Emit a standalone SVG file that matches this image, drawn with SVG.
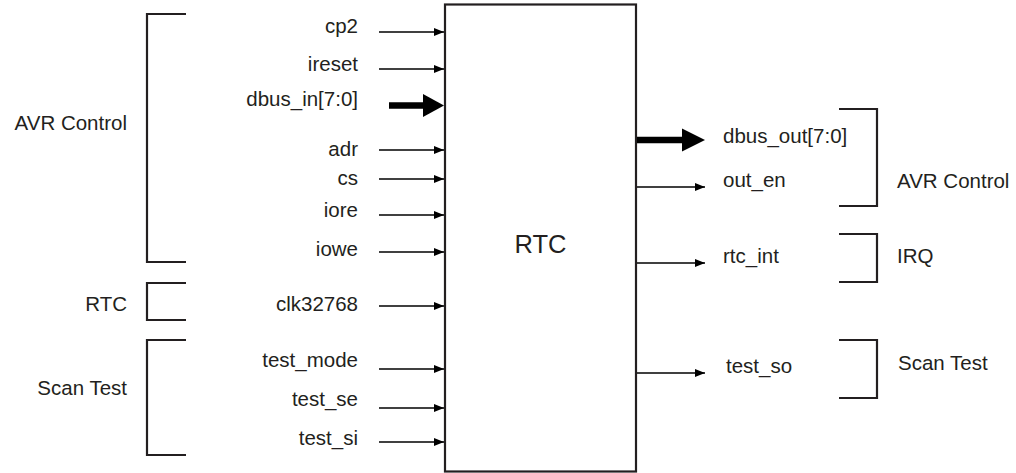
<svg xmlns="http://www.w3.org/2000/svg" width="1016" height="473" viewBox="0 0 1016 473">
<defs>
<style>
text{font-family:"Liberation Sans",Arial,sans-serif;font-size:20.5px;fill:#231f20}
.end{text-anchor:end}
.br{fill:none;stroke:#231f20;stroke-width:2.2}
.thin{stroke:#000;stroke-width:1.3;fill:none}
.thick{stroke:#000;stroke-width:6.5;fill:none}
</style>
<marker id="ah" viewBox="0 0 10 8" refX="10" refY="4" markerWidth="10" markerHeight="8" markerUnits="userSpaceOnUse" orient="auto">
<path d="M0,0 L10,4 L0,8 Z" fill="#000"/>
</marker>
</defs>
<rect width="1016" height="473" fill="#fff"/>
<g id="rtc-block">
<rect x="445" y="4.5" width="191" height="467" fill="none" stroke="#231f20" stroke-width="2.2"/>
<text x="540.5" y="253" text-anchor="middle" style="font-size:25.5px">RTC</text>
</g>
<g id="group-left-avr">
<path class="br" d="M186,14 H147 V262 H186"/>
<text class="end" x="127" y="130">AVR Control</text>
</g>
<g id="group-left-rtc">
<path class="br" d="M186,283 H147 V320 H186"/>
<text class="end" x="127" y="311">RTC</text>
</g>
<g id="group-left-scan">
<path class="br" d="M186,340 H147 V455 H186"/>
<text class="end" x="127" y="395">Scan Test</text>
</g>
<g id="group-right-avr">
<path class="br" d="M839,109 H877 V206 H839"/>
<text x="897" y="188">AVR Control</text>
</g>
<g id="group-right-irq">
<path class="br" d="M839,234 H877 V282 H839"/>
<text x="897" y="263">IRQ</text>
</g>
<g id="group-right-scan">
<path class="br" d="M839,340 H877 V398 H839"/>
<text x="898" y="370">Scan Test</text>
</g>
<g id="labels">
<text class="end" x="358" y="33">cp2</text>
<text class="end" x="358" y="71">ireset</text>
<text class="end" x="358" y="106">dbus_in[7:0]</text>
<text class="end" x="358" y="156">adr</text>
<text class="end" x="358" y="185">cs</text>
<text class="end" x="358" y="217">iore</text>
<text class="end" x="358" y="256">iowe</text>
<text class="end" x="358" y="311">clk32768</text>
<text class="end" x="358" y="367">test_mode</text>
<text class="end" x="358" y="406">test_se</text>
<text class="end" x="358" y="445">test_si</text>
<text x="723" y="143">dbus_out[7:0]</text>
<text x="723" y="187">out_en</text>
<text x="723" y="263">rtc_int</text>
<text x="726" y="373">test_so</text>
</g>
<g id="connectors">
<line class="thin" x1="379" y1="32" x2="444" y2="32" marker-end="url(#ah)"/>
<line class="thin" x1="379" y1="69" x2="444" y2="69" marker-end="url(#ah)"/>
<line class="thin" x1="379" y1="150" x2="444" y2="150" marker-end="url(#ah)"/>
<line class="thin" x1="379" y1="179" x2="444" y2="179" marker-end="url(#ah)"/>
<line class="thin" x1="379" y1="215" x2="444" y2="215" marker-end="url(#ah)"/>
<line class="thin" x1="379" y1="252" x2="444" y2="252" marker-end="url(#ah)"/>
<line class="thin" x1="379" y1="306" x2="444" y2="306" marker-end="url(#ah)"/>
<line class="thin" x1="379" y1="369" x2="444" y2="369" marker-end="url(#ah)"/>
<line class="thin" x1="379" y1="408" x2="444" y2="408" marker-end="url(#ah)"/>
<line class="thin" x1="379" y1="442" x2="444" y2="442" marker-end="url(#ah)"/>
<line class="thin" x1="637" y1="187" x2="705" y2="187" marker-end="url(#ah)"/>
<line class="thin" x1="637" y1="263" x2="705" y2="263" marker-end="url(#ah)"/>
<line class="thin" x1="637" y1="373" x2="705" y2="373" marker-end="url(#ah)"/>
<line class="thick" x1="389" y1="105.5" x2="424" y2="105.5"/>
<path d="M423,94 L444,105.5 L423,117 Z" fill="#000"/>
<line class="thick" x1="637" y1="140" x2="683" y2="140"/>
<path d="M682,128.5 L705,140 L682,151.5 Z" fill="#000"/>
</g>
</svg>
